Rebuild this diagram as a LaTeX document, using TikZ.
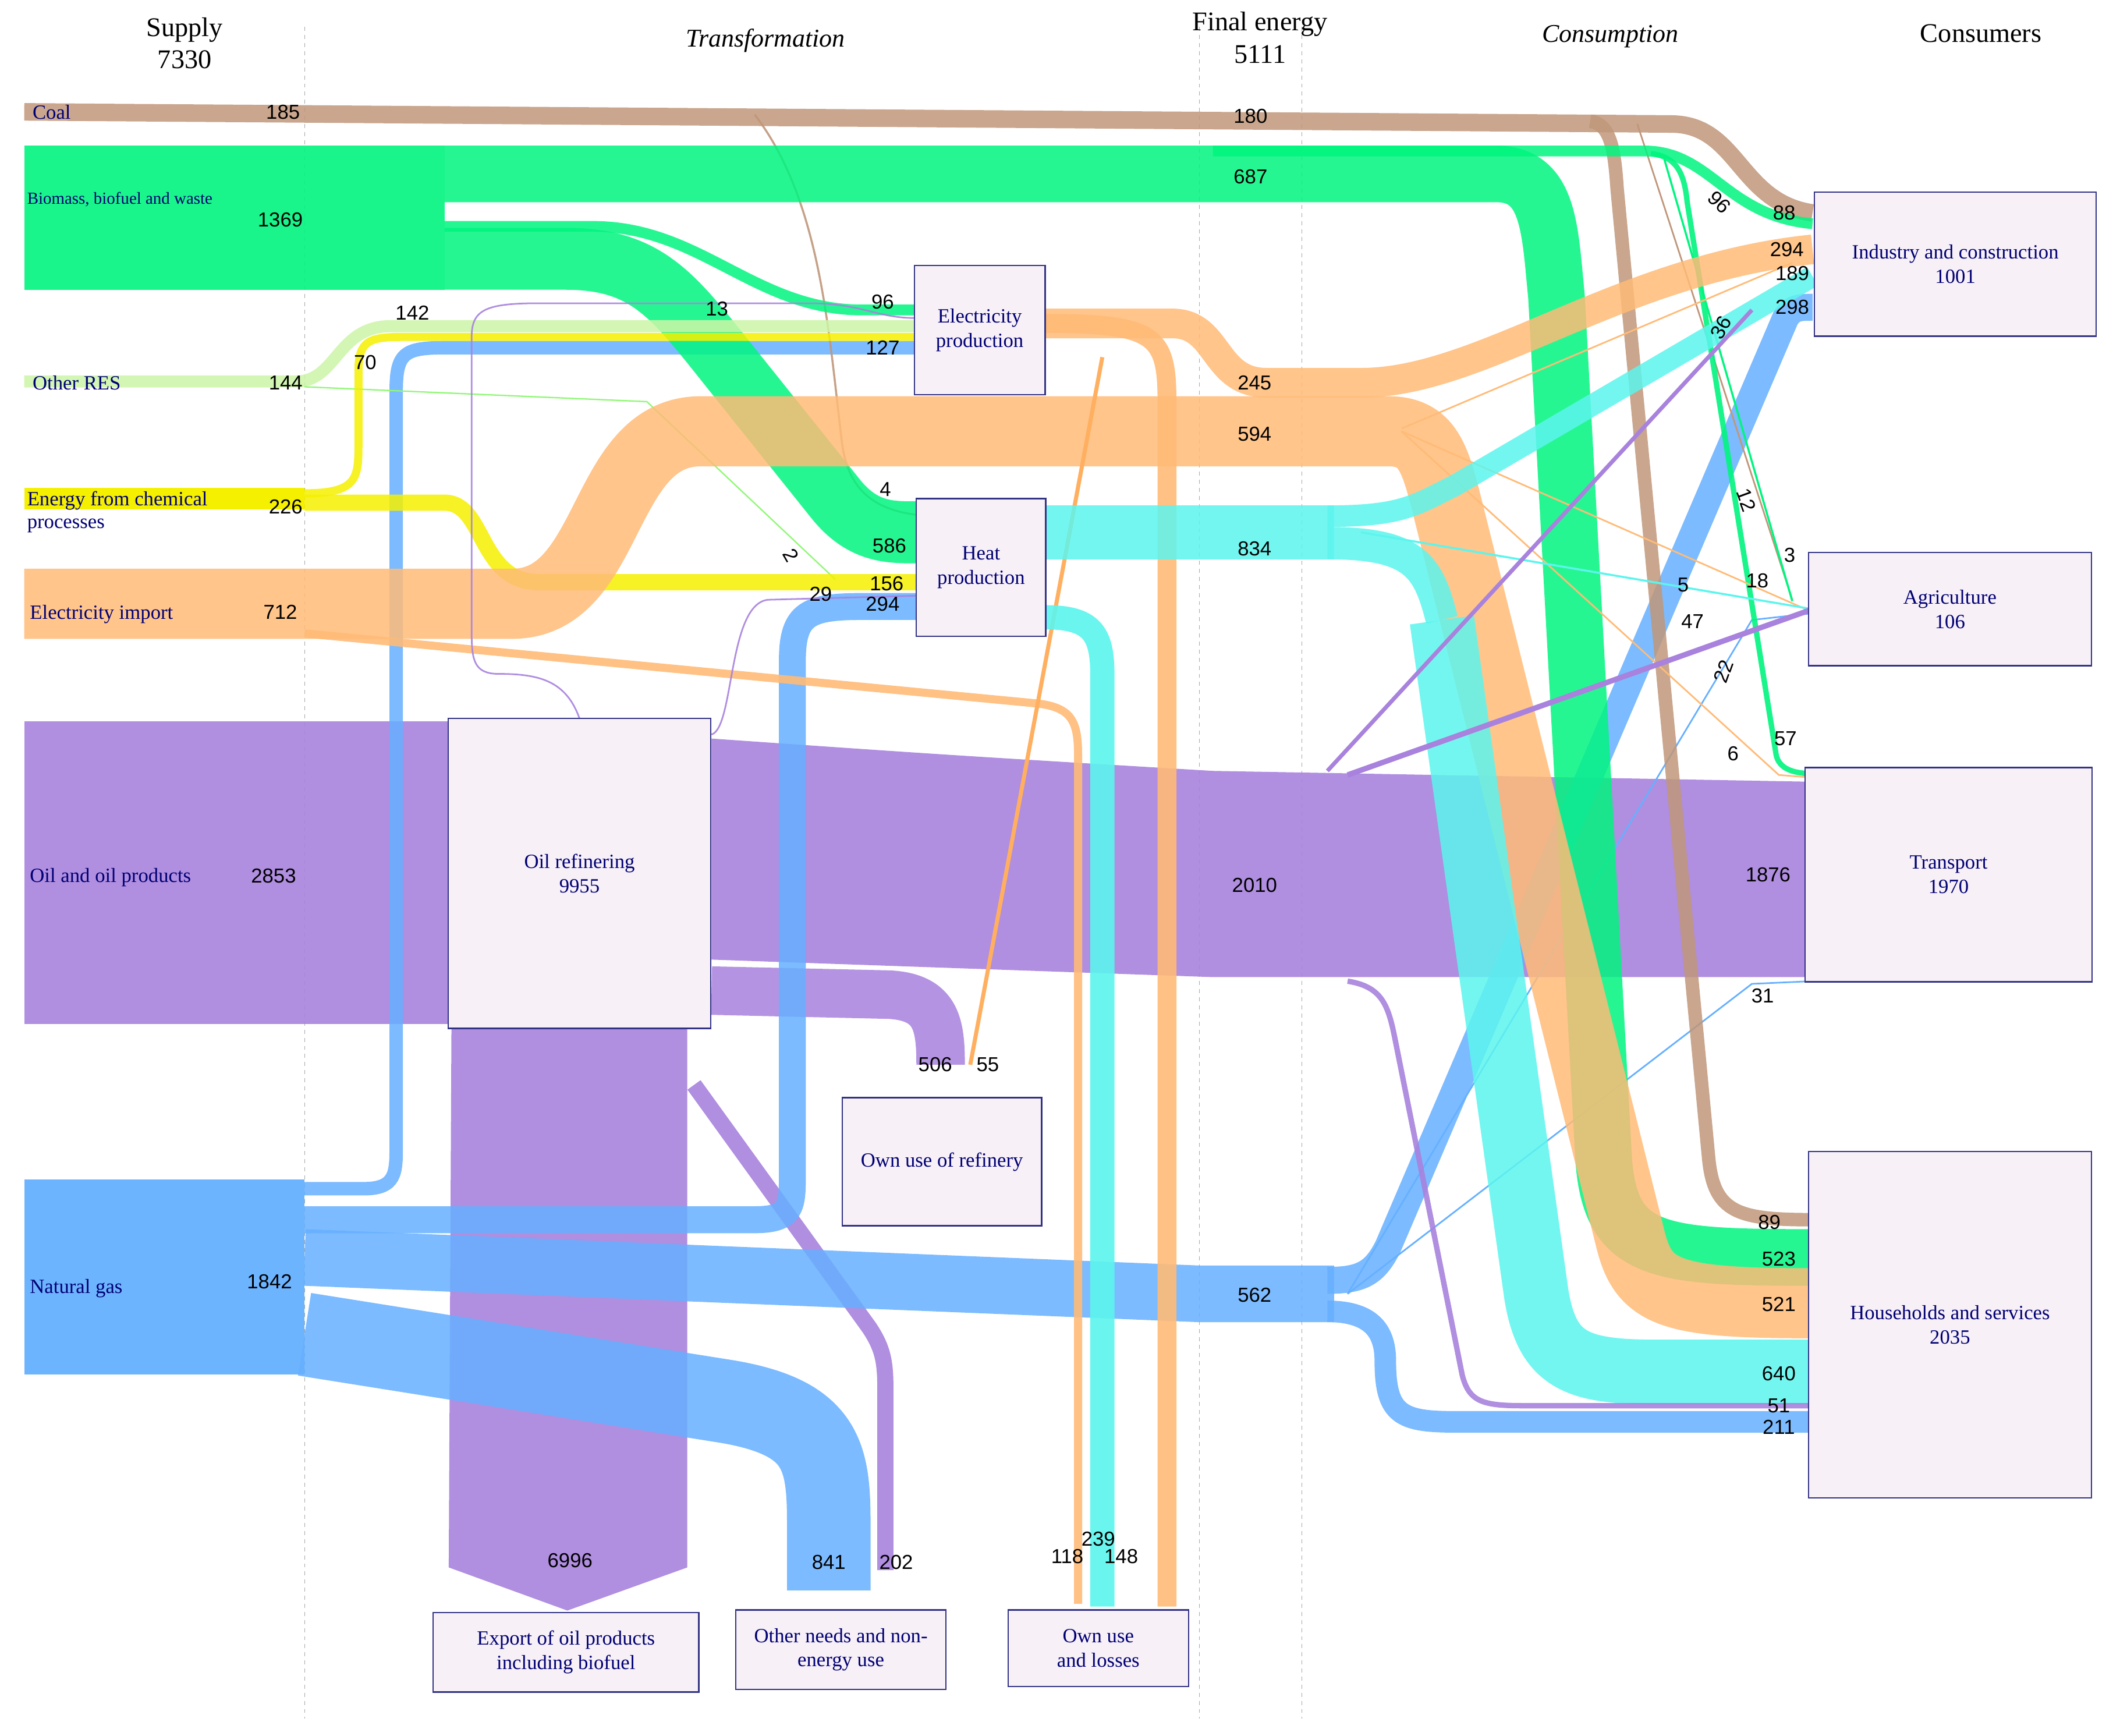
\documentclass[tikz,border=0pt]{standalone}
\usepackage{fontspec}
\setmainfont{Liberation Serif}
\newfontfamily\numf{Liberation Sans}
\begin{document}
\begin{tikzpicture}[x=1pt,y=-1pt,
 band/.style={line cap=butt,line join=round,opacity=.85},
 thin/.style={line cap=butt,line join=round,opacity=.9},
 box/.style={draw=blue!40!black!80,fill=violet!6,line width=1pt,align=center,text=blue!45!black,font=\fontsize{15}{18}\selectfont,inner sep=2pt},
 lab/.style={text=blue!45!black,font=\fontsize{15}{17}\selectfont,anchor=west,inner sep=0},
 num/.style={font=\numf\fontsize{15}{17}\selectfont,inner sep=0},
 hd/.style={font=\fontsize{20}{24}\selectfont,align=center}]
\definecolor{coal}{HTML}{C0977A}\definecolor{bio}{HTML}{00F57F}\definecolor{res}{HTML}{CDF5A8}
\definecolor{chem}{HTML}{F5F000}\definecolor{ele}{HTML}{FFBB77}\definecolor{heat}{HTML}{5CF5EE}
\definecolor{oil}{HTML}{A882DD}\definecolor{gas}{HTML}{66B0FF}
\useasboundingbox (0,0) rectangle (1568,1288);
\fill[white] (0,0) rectangle (1568,1288);
\foreach \x in {226,890,966} \draw[gray!70,dashed,line width=.6pt] (\x,20)--(\x,1275);
% headers
\node[hd] at (137,32) {Supply\\7330};
\node[hd,font=\itshape\fontsize{19}{22}\selectfont] at (568,30) {Transformation};
\node[hd] at (935,28) {Final energy\\5111};
\node[hd,font=\itshape\fontsize{19}{22}\selectfont] at (1195,27) {Consumption};
\node[hd] at (1470,25) {Consumers};
% oil base
\fill[oil,opacity=.9] (18,535) rectangle (335,760);
\fill[oil,opacity=.9] (528,548)..controls(700,560)..(900,572)--(1342,580)--(1342,725)--(900,725)..controls(700,718)..(528,712)--cycle;
\fill[oil,opacity=.9] (335,763)--(510,763)--(510,1163)--(421,1195)--(333,1163)--cycle;
\draw[oil,band,line width=36] (528,735) -- (660,738) .. controls (695,740) and (698,760) .. (698,790);
\draw[oil,thin,line width=12] (515,805) -- (645,985) .. controls (655,1000) and (657,1010) .. (657,1030) -- (657,1165);
% gas
\fill[gas,opacity=.95] (18,875) rectangle (226,1020);
\draw[gas,band,line width=62] (226,990) -- (540,1040) .. controls (610,1052) and (615,1080) .. (615,1130) -- (615,1180);
\draw[gas,band,line width=10] (226,882) -- (270,882) .. controls (294,882) and (294,870) .. (294,850) -- (294,290) .. controls (294,262) and (300,258) .. (330,258) -- (680,258);
\draw[gas,band,line width=20] (226,905) -- (560,905) .. controls (588,905) and (588,895) .. (588,870) -- (588,490) .. controls (588,455) and (600,450) .. (640,450) -- (680,450);
\draw[gas,band,line width=42] (226,933)--(890,960)--(990,960);
\draw[gas,band,line width=20] (985,950) .. controls (1010,950) and (1020,945) .. (1030,925) -- (1325,236) .. controls (1330,228) and (1335,228) .. (1345,228);
\draw[gas,band,line width=16] (985,973) .. controls (1020,973) and (1028,990) .. (1028,1010) .. controls (1028,1050) and (1040,1055) .. (1080,1055) -- (1345,1055);
\draw[gas,line width=1.2] (1000,960)--(1300,730)--(1345,728);
\draw[gas,line width=1.2] (1000,960)--(1300,460)--(1345,455);
% coal
\draw[coal,band,line width=13] (18,83) -- (1240,92) .. controls (1290,92) and (1290,150) .. (1345,158);
\draw[coal,band,line width=10] (1180,90) .. controls (1195,92) and (1198,110) .. (1200,140) -- (1268,860) .. controls (1272,900) and (1290,905) .. (1345,905);
\draw[coal,thin,line width=1.5] (560,85) .. controls (610,150) and (615,250) .. (625,330) .. controls (630,365) and (650,378) .. (680,382);
\draw[coal,line width=1.2] (1215,92)--(1330,445);
% biomass
\fill[bio,opacity=.9] (18,108) rectangle (330,215);
\draw[bio,band,line width=42] (330,129) -- (1110,129) .. controls (1150,129) and (1150,170) .. (1155,220) -- (1190,860) .. controls (1195,930) and (1230,933) .. (1345,933);
\draw[bio,band,line width=46] (330,192) -- (420,192) .. controls (480,192) and (500,220) .. (540,270) -- (620,370) .. controls (640,395) and (660,395) .. (680,395);
\draw[bio,band,line width=8] (330,168) -- (440,168) .. controls (520,168) and (560,230) .. (640,230) -- (680,230);
\draw[bio,band,line width=8] (900,112) -- (1220,112) .. controls (1270,112) and (1280,160) .. (1345,166);
\draw[bio,thin,line width=4] (1225,114) .. controls (1245,116) and (1250,130) .. (1252,150) -- (1318,560) .. controls (1320,570) and (1330,574) .. (1345,574);
\draw[bio,line width=1.5] (1235,118)--(1330,446);
% other RES
\draw[res,band,line width=9] (18,283) -- (220,283) .. controls (250,283) and (250,242) .. (290,242) -- (680,242);
\draw[res!70!green,line width=1] (226,287)--(480,298)--(620,430);
% chemical
\fill[chem] (18,362) rectangle (226,378);
\draw[chem,band,line width=6] (226,366) .. controls (265,366) and (266,355) .. (266,330) -- (266,275) .. controls (266,252) and (275,250) .. (300,250) -- (680,250);
\draw[chem,band,line width=12] (226,373) -- (330,373) .. controls (360,373) and (355,432) .. (400,432) -- (680,432);
% electricity import
\draw[ele,band,line width=52] (18,448) -- (380,448) .. controls (455,448) and (445,320) .. (520,320) -- (1030,320) .. controls (1060,320) and (1065,340) .. (1075,380) -- (1210,920) .. controls (1220,960) and (1240,967) .. (1345,967);
\draw[ele,thin,line width=6] (226,470) -- (770,522) .. controls (795,525) and (800,535) .. (800,560) -- (800,1190);
\draw[ele,line width=1.2] (1040,320)--(1320,575)--(1345,577);
\draw[ele,line width=1.2] (1040,320)--(1340,452);
\draw[ele,line width=1.2] (1040,318)--(1330,195);
% electricity production outputs
\draw[ele,band,line width=22] (776,240) -- (870,240) .. controls (905,240) and (900,284) .. (940,284) -- (1010,284) .. controls (1100,284) and (1200,200) .. (1345,185);
\draw[ele,thin,line width=14] (776,240) .. controls (860,240) and (866,250) .. (866,300) -- (866,1192);
\draw[ele!80!orange,line width=3] (818,265)--(720,790);
% heat outputs
\draw[heat,band,line width=40] (776,395)--(990,395);
\draw[heat,band,line width=16] (985,383) .. controls (1040,383) and (1050,375) .. (1080,360) -- (1345,205);
\draw[heat,band,line width=24] (985,403) .. controls (1050,403) and (1060,420) .. (1070,460);
\draw[heat,band,line width=48] (1070,460) -- (1140,960) .. controls (1148,1010) and (1170,1018) .. (1230,1018) -- (1345,1018);
\draw[heat,line width=1.5] (1010,395)--(1345,452);
\draw[heat,thin,line width=18] (776,458) .. controls (810,458) and (818,470) .. (818,500) -- (818,1192);
% oil thin
\draw[oil,line width=4] (1000,575)--(1345,452);
\draw[oil,line width=3] (985,572)--(1300,230);
\draw[oil,thin,line width=4] (1000,728) .. controls (1025,732) and (1030,745) .. (1035,770) -- (1085,1020) .. controls (1090,1040) and (1100,1043) .. (1130,1043) -- (1345,1043);
\draw[oil,thin,line width=1.2] (430,533) .. controls (420,505) and (400,500) .. (370,500) .. controls (352,500) and (350,490) .. (350,470) -- (350,250) .. controls (350,230) and (360,225) .. (400,225) -- (600,225) .. controls (640,225) and (650,236) .. (680,236);
\draw[oil,thin,line width=1.2] (528,545) .. controls (545,540) and (540,448) .. (570,445) -- (680,442);
% boxes
\node[box,minimum width=97,minimum height=96] (ep) at (727,245) {Electricity\\production};
\node[box,minimum width=96,minimum height=102] (hp) at (728,421) {Heat\\production};
\node[box,minimum width=195,minimum height=230] (or) at (430,648) {Oil refinering\\9955};
\node[box,minimum width=148,minimum height=95] (our) at (699,862) {Own use of refinery};
\node[box,minimum width=197,minimum height=59] (ex) at (420,1226) {Export of oil products\\including biofuel};
\node[box,minimum width=156,minimum height=59] (on) at (624,1224) {Other needs and non-\\energy use};
\node[box,minimum width=134,minimum height=57] (ou) at (815,1223) {Own use\\and losses};
\node[box,minimum width=209,minimum height=107] (ic) at (1451,196) {Industry and construction\\1001};
\node[box,minimum width=210,minimum height=84] (ag) at (1447,452) {Agriculture\\106};
\node[box,minimum width=213,minimum height=159] (tr) at (1446,649) {Transport\\1970};
\node[box,minimum width=210,minimum height=257] (hs) at (1447,983) {Households and services\\2035};
% supply labels
\node[lab] at (24,83) {Coal};
\node[lab,font=\fontsize{12.5}{14}\selectfont] at (20,148) {Biomass, biofuel and waste};
\node[lab] at (24,284) {Other RES};
\node[lab,align=left] at (20,380) {Energy from chemical\\processes};
\node[lab] at (22,456) {Electricity import};
\node[lab] at (22,651) {Oil and oil products};
\node[lab] at (22,956) {Natural gas};
% numbers
\foreach \t/\x/\y in {185/210/83,1369/208/163,144/212/284,226/212/376,712/208/454,2853/203/650,1842/200/951,
180/928/86,687/928/131,96/655/224,13/532/229,142/306/232,70/271/269,127/655/258,245/931/284,594/931/322,
4/657/363,586/660/405,156/658/433,29/609/441,294/655/448,834/931/407,2010/931/657,506/694/790,55/733/790,
562/931/961,6996/423/1158,841/615/1159,202/665/1159,118/792/1155,239/815/1142,148/832/1155,
88/1324/158,294/1326/185,189/1330/203,298/1330/228,3/1328/412,18/1304/431,5/1249/434,47/1256/461,
57/1325/548,6/1286/559,1876/1312/649,31/1308/739,89/1313/907,523/1320/934,521/1320/968,640/1320/1019,51/1320/1043,211/1320/1059}
 \node[num] at (\x,\y) {\t};
\node[num,rotate=-60] at (587,412) {2};
\node[num,rotate=-45] at (1276,150) {96};
\node[num,rotate=60] at (1277,243) {36};
\node[num,rotate=-70] at (1296,371) {12};
\node[num,rotate=70] at (1279,498) {22};
\end{tikzpicture}
\end{document}
